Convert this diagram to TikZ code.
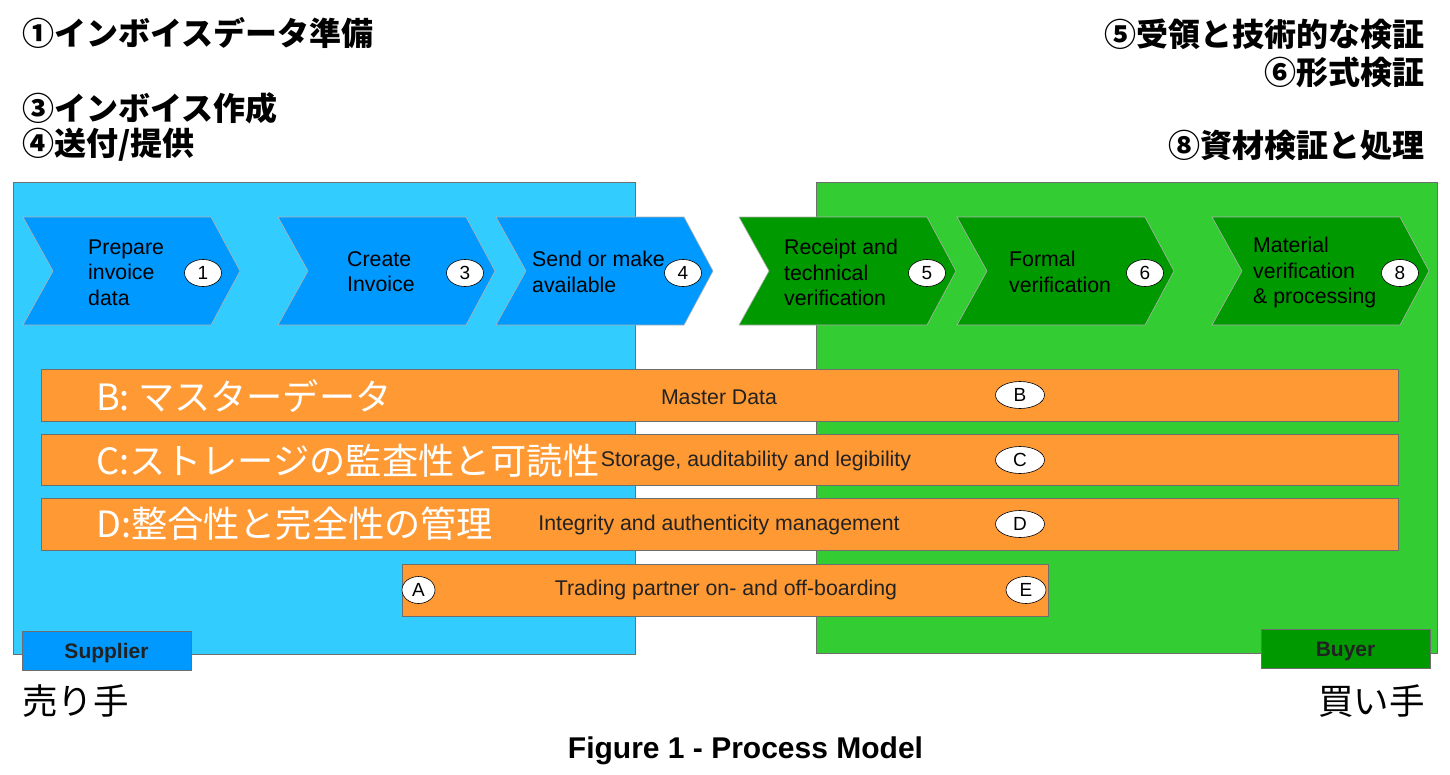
\documentclass[tikz,border=0pt]{standalone}
\usepackage{fontspec}
\setmainfont{Liberation Sans}
\newfontfamily\jp{Noto Sans CJK JP}
\usetikzlibrary{shapes.geometric}
\definecolor{supbg}{HTML}{33CCFF}
\definecolor{supchev}{HTML}{0099FF}
\definecolor{buybg}{HTML}{33CC33}
\definecolor{buychev}{HTML}{009900}
\definecolor{barfill}{HTML}{FF9933}
\definecolor{edgegray}{HTML}{6E6E6E}
\definecolor{txtgray}{HTML}{222222}
\newcommand\mychev[2]{\filldraw[chevstyle, fill=#2] (#1,217) -- ++(188,0) -- ++(29,54) -- ++(-29,54) -- ++(-188,0) -- ++(30,-54) -- cycle;}
\begin{document}
\begin{tikzpicture}[x=1pt,y=-1pt,
  panel/.style={draw=edgegray, line width=0.8pt},
  chevstyle/.style={draw=gray!60, line width=0.6pt},
  steptext/.style={anchor=west, align=left, inner sep=0pt, font=\fontsize{21.3}{25.5}\selectfont},
  num/.style={ellipse, draw=black, fill=white, minimum width=37pt, minimum height=27pt, inner sep=0pt, line width=0.6pt, font=\fontsize{19}{19}\selectfont},
  letter/.style={ellipse, draw=black, fill=white, minimum height=27pt, inner sep=0pt, line width=0.6pt, font=\fontsize{19}{19}\selectfont},
  barstyle/.style={draw=edgegray, fill=barfill, line width=0.8pt},
  barlabel/.style={inner sep=0pt, text=txtgray, font=\fontsize{21.3}{21.3}\selectfont},
  jpbar/.style={anchor=west, inner sep=0pt, text=white, font=\jp\fontsize{36.2}{36.2}\selectfont},
  jptop/.style={inner sep=0pt, font=\jp\bfseries\fontsize{32}{32}\selectfont},
  jpside/.style={inner sep=0pt, font=\jp\fontsize{35.5}{35.5}\selectfont},
  rolebox/.style={draw=edgegray, line width=0.8pt},
  roletext/.style={inner sep=0pt, text=txtgray, font=\bfseries\fontsize{21}{21}\selectfont}]
\useasboundingbox (0,0) rectangle (1450,774);
\fill[white] (0,0) rectangle (1450,774);

% top texts
\node[jptop, anchor=west] (t1) at (22,33) {①インボイスデータ準備};
\node[jptop, anchor=west] (t3) at (22,108) {③インボイス作成};
\node[jptop, anchor=west] (t4) at (22,145) {④送付/提供};
\node[jptop, anchor=east] (t5) at (1425,34) {⑤受領と技術的な検証};
\node[jptop, anchor=east] (t6) at (1425,72) {⑥形式検証};
\node[jptop, anchor=east] (t8) at (1425,145) {⑧資材検証と処理};

% panels
\filldraw[panel, fill=supbg] (13,182) rectangle (635,654);
\filldraw[panel, fill=buybg] (816,182) rectangle (1437,653);

% chevrons
\mychev{23}{supchev}
\mychev{278}{supchev}
\mychev{496}{supchev}
\mychev{739}{buychev}
\mychev{957}{buychev}
\mychev{1212}{buychev}

\node[steptext] (s1) at (88,272.5) {Prepare\\invoice\\data};
\node[steptext] (s3) at (347,271.5) {Create\\Invoice};
\node[steptext] (s4) at (532,272) {Send or make\\available};
\node[steptext] (s5) at (784,272.5) {Receipt and\\technical\\verification};
\node[steptext] (s6) at (1009,272) {Formal\\verification};
\node[steptext] (s8) at (1253,272.5) {Material\\verification\\\& processing};

\node[num] (n1) at (203,273) {1};
\node[num] (n3) at (465,273) {3};
\node[num] (n4) at (683,273) {4};
\node[num] (n5) at (927,273) {5};
\node[num] (n6) at (1145,273) {6};
\node[num] (n8) at (1400,273) {8};

% bars
\filldraw[barstyle] (41,369) rectangle (1398,421);
\filldraw[barstyle] (41,434) rectangle (1398,485);
\filldraw[barstyle] (41,498) rectangle (1398,550);
\filldraw[barstyle] (402,564) rectangle (1048,616);

\node[jpbar] (jb) at (96,396) {B: マスターデータ};
\node[jpbar] (jc) at (96,461) {C:ストレージの監査性と可読性};
\node[jpbar] (jd) at (96,524) {D:整合性と完全性の管理};

\node[barlabel] (lb) at (719,397) {Master Data};
\node[barlabel] (lc) at (756,461) {Storage, auditability and legibility};
\node[barlabel] (ld) at (719,525) {Integrity and authenticity management};
\node[barlabel] (le) at (726,590) {Trading partner on- and off-boarding};

\node[letter, minimum width=49pt] (cb) at (1020,395) {B};
\node[letter, minimum width=49pt] (cc) at (1020,460) {C};
\node[letter, minimum width=49pt] (cd) at (1020,524) {D};
\node[letter, minimum width=40pt] (ce) at (1026,590) {E};
\node[letter, minimum width=33pt] (ca) at (418.5,590) {A};

% role boxes
\filldraw[rolebox, fill=supchev] (22,631) rectangle (191,670);
\filldraw[rolebox, fill=buychev] (1261,629) rectangle (1430,668);
\node[roletext] (sup) at (106.5,653) {Supplier};
\node[roletext] (buy) at (1345.5,651) {Buyer};

\node[jpside, anchor=west] (ja1) at (22,701) {売り手};
\node[jpside, anchor=east] (ja2) at (1425,701) {買い手};

\node[inner sep=0pt, font=\bfseries\fontsize{30}{30}\selectfont] (cap) at (745.5,751) {Figure 1 - Process Model};
\end{tikzpicture}
\end{document}
